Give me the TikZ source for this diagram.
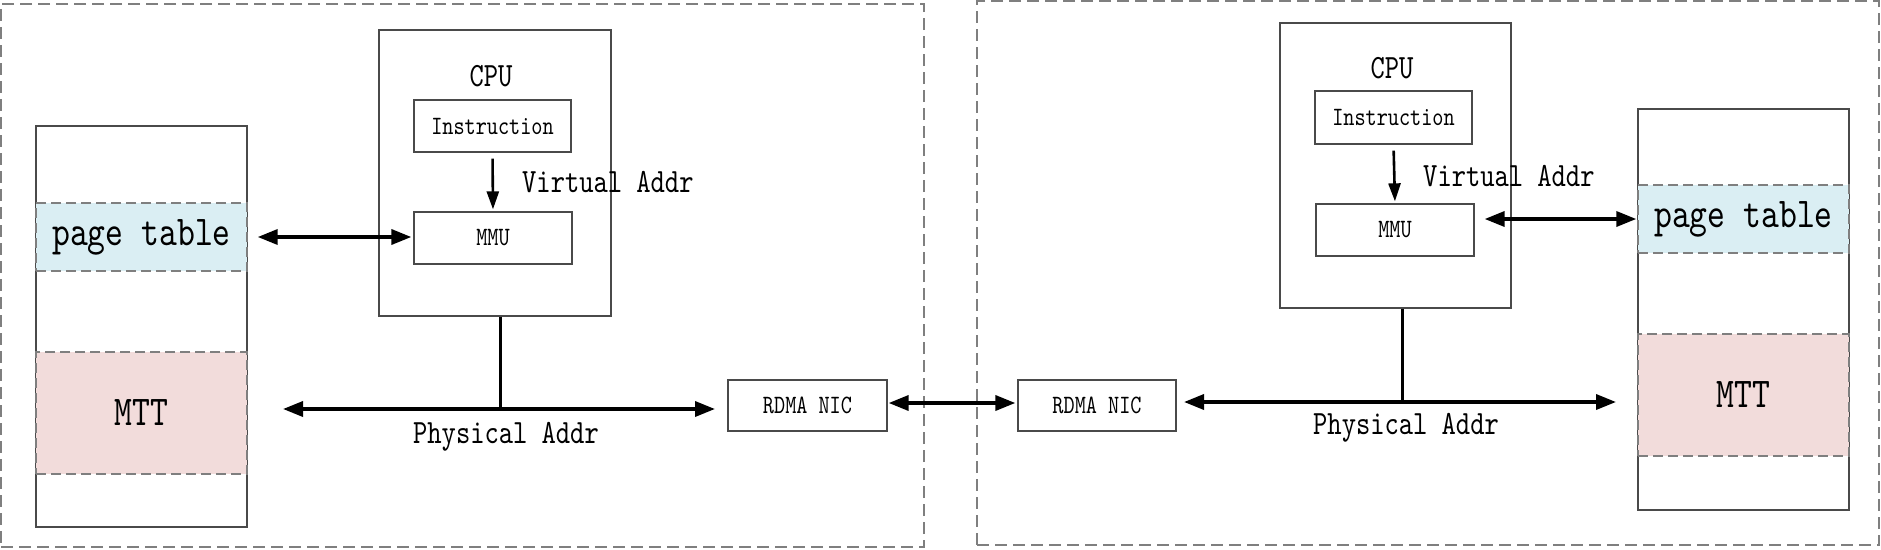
\documentclass[tikz,border=0pt]{standalone}
\usepackage{fontspec}
\usetikzlibrary{arrows.meta,positioning}
\newfontfamily\reffont{lmmono10-regular.otf}[FakeStretch=0.8]
\definecolor{Frame}{HTML}{7F7F7F}
\definecolor{Edge}{HTML}{4A4A4A}
\definecolor{PageBlue}{HTML}{DAEEF3}
\definecolor{MttPink}{HTML}{F2DCDB}

\begin{document}
\begin{tikzpicture}[x=1pt,y=-1pt,
host/.style={draw=Frame,line width=1.4pt,dash pattern=on 12pt off 6pt,inner sep=0pt},
blk/.style={draw=Edge,line width=1.3pt,inner sep=0pt,font=\reffont\fontsize{26.5}{30}\selectfont},
band/.style={draw=Frame,line width=1.4pt,dash pattern=on 10pt off 5pt,inner sep=0pt,minimum width=211pt,font=\reffont\fontsize{42.5}{48}\selectfont},
lbl/.style={inner sep=0pt,font=\reffont\fontsize{34}{40}\selectfont},
arr/.style={{Triangle[length=20pt,width=15pt]}-{Triangle[length=20pt,width=15pt]},line width=3.5pt},
down/.style={-{Triangle[length=18pt,width=12pt]},line width=2.6pt},
bus/.style={line width=3pt}]
\useasboundingbox (0,0) rectangle (1881,549);
% host frames
\node[host,minimum width=923pt,minimum height=543pt] (hostL) at (462.5,275.5) {};
\node[host,minimum width=902pt,minimum height=544pt] (hostR) at (1428,273) {};
% left host
\node[blk,minimum width=211pt,minimum height=401pt] (memL) at (141.5,326.5) {};
\node[band,fill=PageBlue,minimum height=68pt] (ptL) at (141.5,237) {page table};
\node[band,fill=MttPink,minimum height=122pt] (mttL) at (141.5,413) {MTT};
\node[blk,minimum width=232pt,minimum height=286pt] (cpuL) at (495,173) {};
\node[lbl] (cpuLtxt) at (491,76) {CPU};
\node[blk,minimum width=157pt,minimum height=52pt] (instrL) at (492.5,126) {Instruction};
\node[blk,minimum width=158pt,minimum height=52pt] (mmuL) at (493,238) {MMU};
\node[lbl,anchor=west] (vaL) at (522,182) {Virtual Addr};
\node[blk,minimum width=159pt,minimum height=51pt] (nicL) at (807.5,405.5) {RDMA NIC};
\coordinate (tapL) at (500,409);
\coordinate (busLa) at (283,409);
\coordinate (busLb) at (715,409);
\node[lbl] (paL) at (506,437) {Physical Addr};
% right host
\node[blk,minimum width=211pt,minimum height=401pt] (memR) at (1743.5,309.5) {};
\node[band,fill=PageBlue,minimum height=68pt] (ptR) at (1743.5,219) {page table};
\node[band,fill=MttPink,minimum height=122pt] (mttR) at (1743.5,395) {MTT};
\node[blk,minimum width=231pt,minimum height=285pt] (cpuR) at (1395.5,165.5) {};
\node[lbl] (cpuRtxt) at (1392,68) {CPU};
\node[blk,minimum width=157pt,minimum height=53pt] (instrR) at (1393.5,117.5) {Instruction};
\node[blk,minimum width=158pt,minimum height=52pt] (mmuR) at (1395,230) {MMU};
\node[lbl,anchor=west] (vaR) at (1423,176) {Virtual Addr};
\node[blk,minimum width=158pt,minimum height=51pt] (nicR) at (1097,405.5) {RDMA NIC};
\coordinate (tapR) at (1402,402);
\coordinate (busRa) at (1184,402);
\coordinate (busRb) at (1616,402);
\node[lbl] (paR) at (1406,428) {Physical Addr};
% connectors
\draw[down,shorten <=6pt,shorten >=2pt] (instrL.south)--(mmuL.north);
\draw[down,shorten <=6pt,shorten >=2pt] (instrR.south)--(mmuR.north);
\draw[arr,shorten <=10pt,shorten >=2pt] (ptL.east)--(ptL.east-|mmuL.west);
\draw[arr,shorten <=10pt,shorten >=1pt] (mmuR.east|-ptR.west)--(ptR.west);
\draw[bus] (tapL|-cpuL.south)--(tapL);
\draw[bus] (tapR|-cpuR.south)--(tapR);
\draw[arr] (busLa)--(busLb);
\draw[arr] (busRa)--(busRb);
\draw[arr,shorten <=1pt,shorten >=2pt] (nicL.east|-0,403)--(nicR.west|-0,403);
\end{tikzpicture}
\end{document}
